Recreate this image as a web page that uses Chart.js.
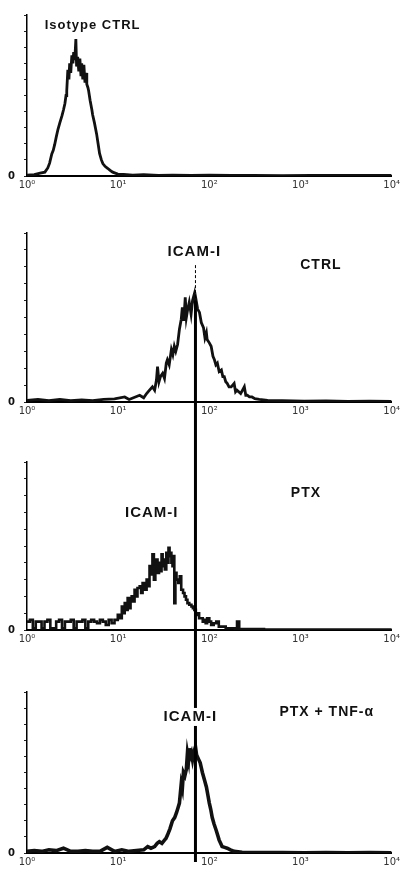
<!DOCTYPE html>
<html>
<head>
<meta charset="utf-8">
<script src="https://cdn.jsdelivr.net/npm/chart.js@4/dist/chart.umd.min.js"></script>
<style>
  html, body { margin: 0; padding: 0; background: #fff; }
  .panel { position: relative; width: 403px; }
</style>
</head>
<body>
<div class="panel" style="height:200px"><canvas id="isoChart"></canvas></div>
<div class="panel" style="height:220px"><canvas id="ctrlChart"></canvas></div>
<div class="panel" style="height:225px"><canvas id="ptxChart"></canvas></div>
<div class="panel" style="height:226px"><canvas id="tnfChart"></canvas></div>
<script>
// FACS histograms, ICAM-1 staining. x = channel (250 channels per decade), y = % of axis height

const decadeTicks = [0, 250, 500, 750, 1000];
const decadeLabels = ['10⁰', '10¹', '10²', '10³', '10⁴'];
const icamChannel = 462;

// Isotype CTRL
const isoCh = [
  0, 20, 36, 49, 57, 62, 68, 72, 76, 80,
  85, 90, 96, 100, 104, 107, 109, 112, 115, 117,
  120, 123, 126, 128, 131, 134, 136, 139, 142, 145,
  148, 150, 153, 156, 159, 162, 164, 167, 169, 173,
  178, 180, 185, 191, 195, 199, 204, 208, 214, 221,
  228, 235, 242, 249, 265, 290, 320, 360, 400, 450,
  500, 560, 620, 700, 780, 860, 940, 1000
];
const isoCount = [
  0.5, 0.8, 1.8, 2.4, 5, 8, 13.7, 16, 19.6, 24,
  29, 33, 37.5, 41, 45, 50, 53, 66, 60, 70,
  64, 75, 70, 77, 72, 85, 68, 74, 65, 73,
  62, 70, 60, 69, 58, 64, 57, 55, 53, 47,
  41, 38, 33, 26, 20, 14, 10, 7.7, 6, 4.8,
  3.5, 2.4, 1.8, 1.2, 1, 0.5, 0.8, 0.3, 0.6, 0.3,
  0.5, 0.3, 0.4, 0.2, 0.4, 0.3, 0.4, 0.3
];

// CTRL
const ctrlCh = [
  0, 30, 60, 90, 120, 150, 180, 210, 240, 268,
  280, 309, 320, 328, 336, 344, 350, 355, 358, 362,
  366, 372, 377, 382, 385, 390, 396, 400, 404, 408,
  413, 418, 423, 426, 430, 434, 437, 440, 445, 450,
  454, 459, 462, 464, 468, 473, 478, 484, 488, 492,
  494, 500, 505, 510, 514, 518, 522, 527, 533, 537,
  541, 545, 549, 554, 560, 568, 572, 576, 586, 596,
  600, 604, 610, 617, 625, 637, 660, 700, 760, 820,
  880, 940, 1000
];
const ctrlCount = [
  1, 1.5, 0.8, 1.5, 0.8, 1.2, 0.8, 1.5, 1.8, 3,
  1.5, 4, 2.5, 5, 7, 9, 7, 13, 21, 12,
  15, 17, 14, 23, 25, 22, 31, 28, 33, 30,
  34, 43, 49, 56, 48, 62, 50, 54, 59, 52,
  60, 64, 57, 60, 55, 53, 47, 44, 38, 41,
  37, 35, 33, 27, 25, 22, 23, 18, 19, 15,
  15, 12, 11, 9, 9, 11, 6, 7, 5, 9,
  4, 4, 3, 3, 2, 1.5, 1, 0.8, 0.5, 0.6,
  0.4, 0.5, 0.4
];

// PTX
const ptxCh = [
  0, 8, 16, 24, 32, 40, 48, 56, 64, 72,
  80, 88, 96, 104, 112, 120, 128, 136, 144, 152,
  160, 168, 176, 184, 192, 200, 208, 216, 224, 232,
  240, 249, 255, 260, 264, 268, 272, 276, 281, 284,
  287, 291, 295, 299, 303, 309, 313, 317, 322, 328,
  332, 336, 340, 344, 348, 352, 355, 358, 362, 366,
  369, 372, 374, 378, 382, 385, 388, 391, 393, 396,
  399, 402, 404, 407, 410, 415, 419, 423, 428, 432,
  436, 440, 445, 451, 455, 459, 463, 467, 472, 478,
  482, 486, 490, 494, 500, 505, 512, 519, 526, 533,
  545, 560, 570, 576, 582, 600, 650, 700, 760, 820,
  880, 940, 1000
];
const ptxCount = [
  5, 6, 1, 5, 5, 1, 5, 6, 1, 1,
  5, 6, 1, 5, 5, 6, 1, 5, 5, 6,
  1, 5, 6, 5, 4, 6, 5, 3, 6, 4,
  6, 9, 7, 14, 10, 16, 12, 19, 13, 18,
  20, 17, 24, 20, 25, 26, 22, 28, 24, 30,
  26, 38, 33, 45, 30, 36, 42, 34, 40, 35,
  45, 38, 42, 36, 46, 40, 49, 44, 46, 40,
  38, 44, 16, 34, 30, 28, 32, 24, 22, 20,
  18, 16, 15, 14, 13, 12, 9, 10, 7, 7,
  5, 6, 4, 7, 5, 3, 4, 5, 2, 2,
  1, 1, 0.5, 5, 0.5, 0.5, 0.3, 0.3, 0.2, 0.3,
  0.2, 0.3, 0.2
];

// PTX + TNF-a
const tnfCh = [
  0, 20, 40, 60, 80, 100, 120, 140, 160, 180,
  200, 220, 240, 260, 280, 300, 320, 331, 340, 350,
  357, 363, 370, 377, 381, 385, 392, 399, 405, 410,
  414, 418, 423, 426, 429, 433, 437, 440, 443, 445,
  448, 451, 454, 458, 462, 465, 467, 471, 475, 478,
  481, 486, 492, 496, 500, 504, 508, 513, 519, 523,
  527, 531, 535, 542, 549, 558, 568, 590, 640, 700,
  760, 820, 880, 940, 1000
];
const tnfCount = [
  1, 1.5, 1, 2, 1.5, 3, 1, 1, 1.5, 1,
  1, 3.5, 1, 2, 1, 1.5, 2, 4, 3, 4,
  6, 7, 6, 8, 9, 11, 15, 20, 22, 25,
  28, 31, 43, 40, 50, 48, 52, 62, 58, 65,
  60, 62, 58, 63, 66, 61, 60, 58, 56, 53,
  50, 46, 41, 36, 31, 27, 22, 18, 14, 11,
  8, 6, 4, 3.5, 3, 2, 1, 0.5, 0.3, 0.3,
  0.2, 0.3, 0.2, 0.3, 0.2
];

// marker line + panel captions, placed through the chart's own scales
const panelMarks = {
  id: 'panelMarks',
  afterDatasetsDraw(chart, args, opts) {
    const { ctx, scales: { x, y } } = chart;
    ctx.save();
    ctx.strokeStyle = '#000';
    if (opts.marker) {
      const m = opts.marker;
      const px = x.getPixelForValue(m.value);
      const top = m.from == null ? 0 : y.getPixelForValue(m.from);
      const bottom = m.to == null ? chart.height : y.getPixelForValue(m.to);
      if (m.thinFrom != null) {
        ctx.lineWidth = 1;
        ctx.setLineDash([3, 2]);
        ctx.beginPath();
        ctx.moveTo(px, y.getPixelForValue(m.thinFrom));
        ctx.lineTo(px, top);
        ctx.stroke();
        ctx.setLineDash([]);
      }
      ctx.lineWidth = 3;
      ctx.beginPath();
      ctx.moveTo(px, top);
      ctx.lineTo(px, bottom);
      ctx.stroke();
    }
    (opts.labels || []).forEach(l => {
      ctx.font = `bold ${l.size}px "Liberation Sans", Arial, sans-serif`;
      ctx.letterSpacing = '1px';
      ctx.textAlign = 'center';
      ctx.textBaseline = 'middle';
      const lx = x.getPixelForValue(l.x);
      const ly = y.getPixelForValue(l.y);
      if (l.bg) {
        const w = ctx.measureText(l.text).width;
        ctx.fillStyle = '#fff';
        ctx.fillRect(lx - w / 2 - 2, ly - l.size * 0.6, w + 4, l.size * 1.2);
      }
      ctx.fillStyle = '#111';
      ctx.fillText(l.text, lx, ly);
    });
    ctx.restore();
  }
};

function makePanel(id, ch, counts, layout, marks) {
  new Chart(document.getElementById(id), {
    type: 'line',
    data: {
      datasets: [{
        data: ch.map((c, i) => ({ x: c, y: counts[i] })),
        borderColor: '#111',
        borderWidth: layout.line,
        stepped: layout.stepped || false,
        pointRadius: 0,
        tension: 0,
        fill: false
      }]
    },
    options: {
      responsive: true,
      maintainAspectRatio: false,
      animation: false,
      layout: { padding: { top: layout.top, right: 10, left: 0, bottom: 0 } },
      plugins: { legend: { display: false }, tooltip: { enabled: false }, panelMarks: marks },
      scales: {
        x: {
          type: 'linear',
          min: 0,
          max: 1000,
          afterBuildTicks: s => { s.ticks = decadeTicks.map(v => ({ value: v })); },
          afterFit: s => { s.height = layout.axis; },
          ticks: {
            callback: v => decadeLabels[decadeTicks.indexOf(v)],
            color: '#333',
            padding: 3,
            maxRotation: 0,
            autoSkip: false,
            font: { size: 10, family: 'DejaVu Sans' }
          },
          grid: { display: false, drawTicks: false },
          border: { color: '#000', width: 2 }
        },
        y: {
          min: 0,
          max: 100,
          afterFit: s => { s.width = 27; },
          ticks: {
            stepSize: 10,
            callback: v => (v === 0 ? '0' : ''),
            color: '#111',
            padding: 9,
            font: { size: 10, weight: 'bold', family: 'DejaVu Sans' }
          },
          grid: { drawOnChartArea: false, drawTicks: true, tickLength: 3, color: '#222' },
          border: { color: '#000', width: 1.5 }
        }
      }
    },
    plugins: [panelMarks]
  });
}

makePanel('isoChart', isoCh, isoCount, { top: 8, axis: 24, line: 2.8 }, {
  labels: [{ text: 'Isotype CTRL', x: 180, y: 93.5, size: 13 }]
});

makePanel('ctrlChart', ctrlCh, ctrlCount, { top: 33, axis: 18, line: 2.8 }, {
  marker: { value: icamChannel, thinFrom: 81, from: 60, to: null },
  labels: [
    { text: 'ICAM-I', x: 459, y: 88.8, size: 15 },
    { text: 'CTRL', x: 806, y: 81, size: 14 }
  ]
});

makePanel('ptxChart', ptxCh, ptxCount, { top: 42, axis: 15, line: 2.6, stepped: true }, {
  marker: { value: icamChannel, from: null, to: null },
  labels: [
    { text: 'ICAM-I', x: 342, y: 70, size: 15 },
    { text: 'PTX', x: 765, y: 81.5, size: 14 }
  ]
});

makePanel('tnfChart', tnfCh, tnfCount, { top: 47, axis: 18, line: 3.6 }, {
  marker: { value: icamChannel, from: null, to: -5.6 },
  labels: [
    { text: 'ICAM-I', x: 448, y: 84.5, size: 15, bg: true },
    { text: 'PTX + TNF-α', x: 822, y: 87.6, size: 14 }
  ]
});
</script>
</body>
</html>
